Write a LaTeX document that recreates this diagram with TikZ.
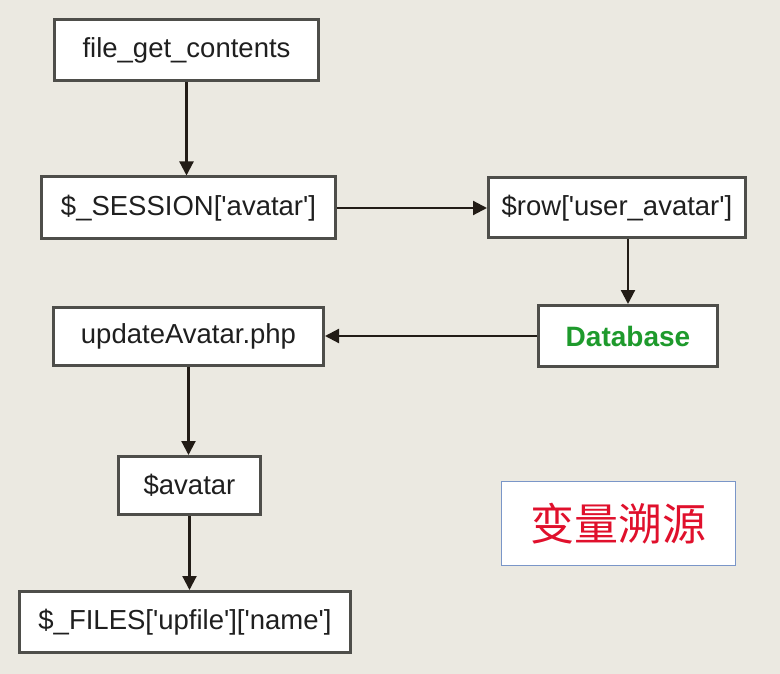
\documentclass[tikz,border=0pt]{standalone}
\usepackage{fontspec}
\setmainfont{Liberation Sans}
\newfontfamily\cjk{Noto Sans CJK SC}
\usetikzlibrary{arrows.meta}
\definecolor{bg}{HTML}{EBE9E1}
\definecolor{bordergray}{HTML}{4E4E4A}
\definecolor{arrowc}{HTML}{221C16}
\definecolor{dbgreen}{HTML}{1E9A2C}
\definecolor{cnred}{HTML}{E0102C}
\definecolor{cnblue}{HTML}{7A96C8}
\newcommand{\sq}{\textquotesingle}
\tikzset{
  box/.style={draw=bordergray, line width=3pt, fill=white, inner sep=0pt,
    font=\fontsize{27.5}{32}\selectfont, text=black!88},
  conn/.style={draw=arrowc, line width=2.2pt, -{Triangle[length=14pt,width=14pt]}}
}
\begin{document}
\begin{tikzpicture}[x=1pt,y=-1pt]
\fill[bg] (0,0) rectangle (780,674);
\useasboundingbox (0,0) rectangle (780,674);
\node[box, minimum width=264pt, minimum height=61pt] (fgc) at (186.5,50) {file\_get\_contents};
\node[box, minimum width=294pt, minimum height=62pt] (sess) at (188.5,208) {\$\_SESSION[\sq avatar\sq]};
\node[box, minimum width=257pt, minimum height=60pt] (row) at (617,208) {\$row[\sq user\_avatar\sq]};
\node[box, minimum width=179pt, minimum height=61pt, text=dbgreen, font=\fontsize{28}{32}\selectfont\bfseries] (db) at (628,336) {Database};
\node[box, minimum width=270pt, minimum height=58pt] (upd) at (188.5,336) {updateAvatar.php};
\node[box, minimum width=142pt, minimum height=58pt] (av) at (189.5,485.5) {\$avatar};
\node[box, minimum width=331pt, minimum height=61pt] (files) at (185,622) {\$\_FILES[\sq upfile\sq][\sq name\sq]};
\node[draw=cnblue, line width=1pt, fill=white, minimum width=234pt, minimum height=84pt, text=cnred, font=\cjk\fontsize{44}{50}\selectfont] (cn) at (618.5,523.5) {变量溯源};
\draw[conn] (fgc.south) -- (fgc.south |- sess.north);
\draw[conn] (sess.east) -- (row.west);
\draw[conn] (row.south -| db.north) -- (db.north);
\draw[conn] (db.west) -- (upd.east);
\draw[conn] (upd.south) -- (upd.south |- av.north);
\draw[conn] (av.south) -- (av.south |- files.north);
\end{tikzpicture}
\end{document}
